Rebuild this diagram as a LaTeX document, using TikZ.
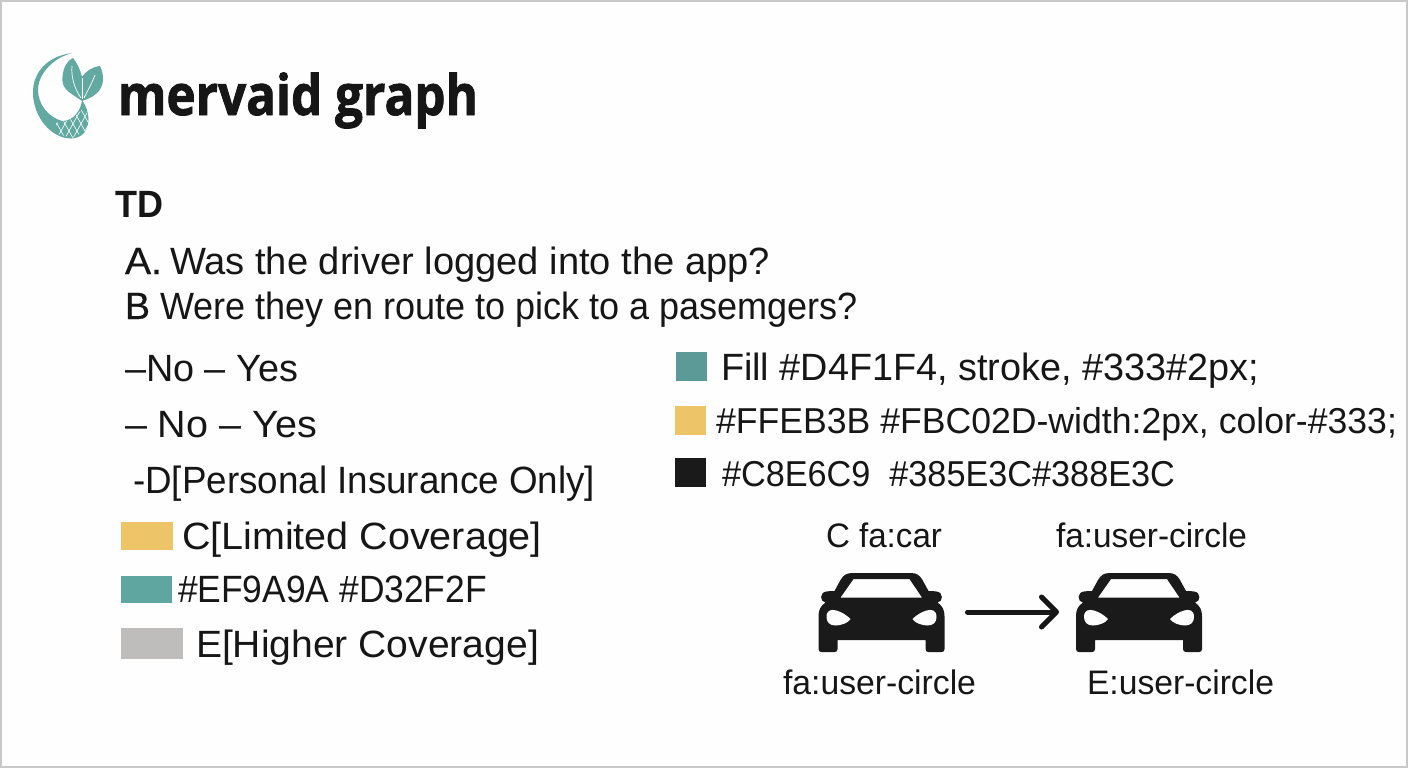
\documentclass[tikz,border=0pt]{standalone}
\usepackage{fontspec}
\usepackage{graphicx}
\setmainfont{Liberation Sans}
\newfontfamily\titlefont[BoldFeatures={FakeBold=1.6}]{Open Sans}
\newfontfamily\keyfont[FakeBold=0.5]{Liberation Sans}
\usetikzlibrary{arrows.meta}
\definecolor{pagebg}{HTML}{FEFEFE}
\definecolor{frame}{HTML}{C9C9C9}
\definecolor{logoteal}{HTML}{62A9A1}
\definecolor{ink}{HTML}{161616}
\definecolor{swteal}{HTML}{5C9A97}
\definecolor{swtealb}{HTML}{5FA5A0}
\definecolor{swyellow}{HTML}{EEC468}
\definecolor{swgrey}{HTML}{BEBDBB}
\definecolor{swblack}{HTML}{1A1A1A}
\newsavebox{\fitbox}
\newcommand{\fitw}[2]{\sbox{\fitbox}{#2}\pgfmathsetmacro{\fitr}{#1/(\wd\fitbox/1pt)}\scalebox{\fitr}[1]{\usebox{\fitbox}}}
\newcommand{\fsz}[1]{\fontsize{#1}{#1}\selectfont}
\tikzset{
  lbl/.style={anchor=base west,inner sep=0pt,outer sep=0pt,text=ink},
  carslot/.style={inner sep=0pt,outer sep=0pt,minimum width=126pt,minimum height=80pt},
  linkline/.style={draw=ink,line width=5pt,line cap=round,-{Straight Barb[length=15pt,width=30pt,line width=5pt,round]}},
  pics/carfront/.style={code={
    \fill[swblack,even odd rule]
      (-29,-39) -- (29,-39) .. controls (35,-39) and (38,-37) .. (41,-32) -- (47,-21)
      .. controls (50,-21) and (52,-21) .. (55,-20.5)
      .. controls (62,-20) and (62,-10) .. (56,-9.5)
      .. controls (61,-6) and (63,-2) .. (63,4) -- (63,37) .. controls (63,39) and (62,40) .. (60,40)
      -- (47,40) .. controls (45,40) and (44,39) .. (44,37) -- (44,28)
      -- (-44,28) -- (-44,37) .. controls (-44,39) and (-45,40) .. (-47,40)
      -- (-60,40) .. controls (-62,40) and (-63,39) .. (-63,37) -- (-63,4)
      .. controls (-63,-2) and (-61,-6) .. (-56,-9.5)
      .. controls (-62,-10) and (-62,-20) .. (-55,-20.5)
      .. controls (-52,-21) and (-50,-21) .. (-47,-21) -- (-41,-32)
      .. controls (-38,-37) and (-35,-39) .. (-29,-39) -- cycle
      (-41,-14.5) -- (40.5,-14.5) -- (28,-33) -- (-28,-33) -- cycle;
    \fill[pagebg] (-55,5) .. controls (-55,-2) and (-50,-3) .. (-45,-1.5)
      .. controls (-40,0) and (-35,3) .. (-31,7) .. controls (-33,11) and (-41,13.5) .. (-46,13.5)
      .. controls (-52,13.5) and (-55,10) .. (-55,5) -- cycle;
    \fill[pagebg] (55,5) .. controls (55,-2) and (50,-3) .. (45,-1.5)
      .. controls (40,0) and (35,3) .. (31,7) .. controls (33,11) and (41,13.5) .. (46,13.5)
      .. controls (52,13.5) and (55,10) .. (55,5) -- cycle;
  }}
}
\begin{document}
\begin{tikzpicture}[x=1pt,y=-1pt]
\useasboundingbox (0,0) rectangle (1408,768);
\fill[pagebg] (0,0) rectangle (1408,768);
\draw[frame,line width=2pt] (1,1) rectangle (1407,767);

% logo: crescent body running into the tail
\fill[logoteal] (72,53) .. controls (48,56) and (33,72) .. (33,92)
  .. controls (33,118) and (52,138.5) .. (71,138.5)
  .. controls (82,138.5) and (89,130) .. (88.5,119)
  .. controls (88,111) and (86,106) .. (82,100)
  .. controls (81,110) and (74,121) .. (62,121)
  .. controls (48,117) and (38,104) .. (38,90)
  .. controls (38,74) and (53,58) .. (72,53) -- cycle;
% logo: fins
\fill[logoteal] (82,77) .. controls (80,69) and (77,63) .. (73,58)
  .. controls (65,62) and (62,72) .. (62.5,81)
  .. controls (63,90) and (72,94) .. (82,101)
  .. controls (92,98) and (103,92) .. (103,79)
  .. controls (103,74) and (102,70) .. (100,66)
  .. controls (92,67) and (86,71) .. (82,77) -- cycle;
\draw[pagebg,line width=.7pt] (72,66) .. controls (71,76) and (74,88) .. (81,98);
\draw[pagebg,line width=.7pt] (95,75) .. controls (92,83) and (88,90) .. (84,98);
\draw[pagebg,line width=.7pt] (82,78) -- (82,99);
% logo: scales on the tail
\begin{scope}
  \clip (56,123) -- (70,120) -- (84,108) -- (90,118) -- (87,130) -- (72,138) -- (58,134) -- cycle;
  \foreach \p in {0,8,...,48}{
    \draw[pagebg,line width=.6pt] (48+\p,140) -- (68+\p,104);
    \draw[pagebg,line width=.6pt] (46+\p,104) -- (66+\p,140);
  }
\end{scope}

\node[lbl] (title) at (118,115) {\fitw{360}{\titlefont\bfseries\fsz{56}mervaid graph}};

\node[lbl] (td) at (115,217) {\fitw{48}{\bfseries\fsz{38}TD}};
\node[lbl] (la) at (125,274) {\fitw{37}{\keyfont\fsz{38}A.}};
\node[lbl] (lat) at (170,274) {\fitw{600}{\fsz{38}Was the driver logged into the app?}};
\node[lbl] (lb) at (125,319) {\fitw{25}{\keyfont\fsz{38}B}};
\node[lbl] (lbt) at (160,319) {\fitw{698}{\fsz{38}Were they en route to pick to a pasemgers?}};
\node[lbl] (l1) at (125,381) {\fitw{173}{\fsz{38}–No – Yes}};
\node[lbl] (l2) at (125,437) {\fitw{192}{\fsz{38}– No – Yes}};
\node[lbl] (l3) at (133,493) {\fitw{462}{\fsz{38}-D[Personal Insurance Only]}};
\node[lbl] (l4) at (182,549) {\fitw{360}{\fsz{38}C[Limited Coverage]}};
\node[lbl] (l5) at (178,602) {\fitw{309}{\fsz{38}\#EF9A9A \#D32F2F}};
\node[lbl] (l6) at (196,657) {\fitw{343}{\fsz{38}E[Higher Coverage]}};

\fill[swyellow] (121,522) rectangle (173,550);
\fill[swtealb] (121,576) rectangle (172,603);
\fill[swgrey] (121,628) rectangle (183,659);

\fill[swteal] (676,352) rectangle (707,381);
\fill[swyellow] (675,406) rectangle (706,435);
\fill[swblack] (675,458) rectangle (706,487);

\node[lbl] (r1) at (721,380) {\fitw{538}{\fsz{38}Fill \#D4F1F4, stroke, \#333\#2px;}};
\node[lbl] (r2) at (716,433) {\fitw{681}{\fsz{36}\#FFEB3B \#FBC02D-width:2px, color-\#333;}};
\node[lbl] (r3) at (722,486) {\fitw{453}{\fsz{36}\#C8E6C9 \ \#385E3C\#388E3C}};

\node[lbl] (c1) at (826,547) {\fitw{116}{\fsz{34}C fa:car}};
\node[lbl] (c2) at (1056,547) {\fitw{191}{\fsz{34}fa:user-circle}};
\node[lbl] (c3) at (783,694) {\fitw{193}{\fsz{34}fa:user-circle}};
\node[lbl] (c4) at (1087,694) {\fitw{187}{\fsz{34}E:user-circle}};

\node[carslot] (cara) at (881.5,612) {};
\node[carslot] (carb) at (1139,612) {};
\pic at (cara.center) {carfront};
\pic at (carb.center) {carfront};
\draw[linkline] ([xshift=23pt]cara.east) -- ([xshift=-17pt]carb.west);
\end{tikzpicture}
\end{document}
